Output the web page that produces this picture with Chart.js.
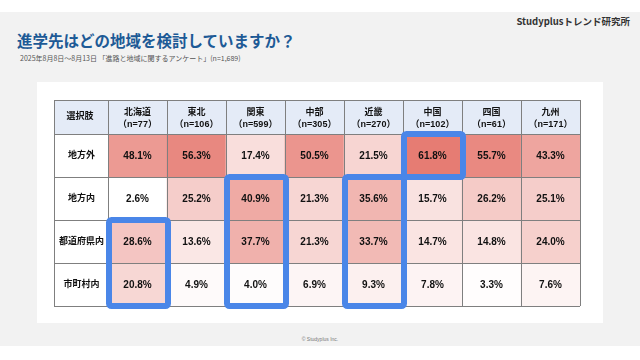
<!DOCTYPE html>
<html><head><meta charset="utf-8">
<script src="https://cdn.jsdelivr.net/npm/chart.js@4.4.1/dist/chart.umd.min.js"></script>
<style>
html,body{margin:0;padding:0;width:640px;height:360px;overflow:hidden;background:#fff;font-family:'Noto Sans CJK JP',sans-serif;}
#bg{position:absolute;left:0;top:12px;width:640px;height:334px;background:#f2f2f2;}
#panel{position:absolute;left:37px;top:82px;width:566px;height:241px;background:#fff;}
#title{position:absolute;left:17px;top:33px;font-size:15.5px;font-weight:bold;color:#1d5a96;line-height:1;white-space:nowrap;}
#sub{position:absolute;left:20px;top:55px;font-size:7px;color:#555;line-height:1;white-space:nowrap;}
#logo{position:absolute;right:10px;top:17px;font-size:9.5px;font-weight:bold;color:#333;line-height:1;white-space:nowrap;}
#foot{position:absolute;left:0;width:640px;top:337px;text-align:center;font-size:5px;color:#777;line-height:1;font-family:'Liberation Sans',sans-serif;}
canvas{position:absolute;left:0;top:0;}
</style></head>
<body>
<div id="bg"></div>
<div id="panel"></div>
<div id="title">進学先はどの地域を検討していますか？</div>
<div id="sub">2025年8月8日～8月13日 「進路と地域に関するアンケート」(n=1,689)</div>
<div id="logo">Studyplusトレンド研究所</div>
<div id="foot">© Studyplus Inc.</div>
<canvas id="c" width="640" height="360"></canvas>
<script>
// ---- data ----
const cornerLabel = '選択肢';
const regions = ['北海道','東北','関東','中部','近畿','中国','四国','九州'];
const sampleSizes = [77,106,599,305,270,102,61,171];
const rowNames = ['地方外','地方内','都道府県内','市町村内'];
const outsideRegion = [48.1,56.3,17.4,50.5,21.5,61.8,55.7,43.3];
const withinRegion = [2.6,25.2,40.9,21.3,35.6,15.7,26.2,25.1];
const withinPrefecture = [28.6,13.6,37.7,21.3,33.7,14.7,14.8,24.0];
const withinMunicipality = [20.8,4.9,4.0,6.9,9.3,7.8,3.3,7.6];
const rowValues = [outsideRegion, withinRegion, withinPrefecture, withinMunicipality];
// highlighted cells: region + rows
const highlights = [
  {region:'北海道', rows:['都道府県内','市町村内']},
  {region:'関東', rows:['地方内','都道府県内','市町村内']},
  {region:'近畿', rows:['地方内','都道府県内','市町村内']},
  {region:'中国', rows:['地方外']}
];

// ---- styles ----
const allVals = rowValues.flat();
const vMin = Math.min(...allVals), vMax = Math.max(...allVals);
const hot = [230,124,115];
function heat(v){
  const t = (v - vMin) / (vMax - vMin);
  const c = [255,255,255].map((w,i)=>Math.round(w + (hot[i]-w)*t));
  return `rgb(${c[0]},${c[1]},${c[2]})`;
}
const FONT = "'Liberation Sans','Noto Sans CJK JP',sans-serif";
const headerBg = '#e4ebf7';
const lineColor = '#7f7f7f';
const hlColor = '#4a86e8';

const tablePlugin = {
  id:'table',
  beforeDraw(chart){
    const {ctx, chartArea:a, scales:{x,y}} = chart;
    ctx.save();
    ctx.fillStyle = headerBg;
    ctx.fillRect(y.left, x.top, a.right - y.left, a.top - x.top);
    ctx.fillStyle = '#fff';
    ctx.fillRect(y.left, a.top, a.left - y.left, a.bottom - a.top);
    ctx.restore();
  },
  afterDatasetsDraw(chart){
    const {ctx, chartArea:a, scales:{x,y}} = chart;
    ctx.save();
    // grid lines
    ctx.strokeStyle = lineColor; ctx.lineWidth = 1;
    const half = (x.getPixelForValue(1) - x.getPixelForValue(0)) / 2;
    const vx = [y.left, a.left];
    regions.forEach((r,i)=>vx.push(x.getPixelForValue(i) + half));
    const hy = [x.top, a.top];
    rowNames.forEach((r,i)=>hy.push(y.getPixelForValue(i+1)));
    ctx.beginPath();
    vx.forEach(px=>{const p=Math.round(px)+0.5; ctx.moveTo(p, x.top); ctx.lineTo(p, a.bottom);});
    hy.forEach(py=>{const p=Math.round(py)+0.5; ctx.moveTo(y.left, p); ctx.lineTo(a.right, p);});
    ctx.stroke();
    // corner label
    ctx.fillStyle = '#111';
    ctx.font = `bold 9px ${FONT}`;
    ctx.textAlign = 'center'; ctx.textBaseline = 'middle';
    ctx.fillText(cornerLabel, (y.left + a.left)/2 - 1, (x.top + a.top)/2);
    // cell values
    ctx.font = `bold 10px ${FONT}`;
    chart.data.datasets.forEach((ds,di)=>{
      chart.getDatasetMeta(di).data.forEach((el,i)=>{
        const p = el.getCenterPoint();
        ctx.fillText(rowValues[di][i].toFixed(1) + '%', p.x, p.y + 0.5);
      });
    });
    // highlight boxes
    ctx.strokeStyle = hlColor; ctx.lineWidth = 6; ctx.lineJoin = 'round';
    highlights.forEach(h=>{
      const ci = regions.indexOf(h.region);
      const ris = h.rows.map(r=>rowNames.indexOf(r));
      const l = x.getPixelForValue(ci) - half, r = x.getPixelForValue(ci) + half;
      const t = y.getPixelForValue(Math.min(...ris)), b = y.getPixelForValue(Math.max(...ris)+1);
      ctx.beginPath();
      ctx.roundRect(l+1, t, r-l, b-t, 2.5);
      ctx.stroke();
    });
    ctx.restore();
  }
};

new Chart(document.getElementById('c'), {
  type:'bar',
  data:{
    labels: regions.map((r,i)=>[r, `（n=${sampleSizes[i]}）`]),
    datasets: rowNames.map((name,ri)=>({
      label:name,
      data: regions.map(()=>[ri, ri+1]),
      backgroundColor: rowValues[ri].map(heat),
      borderWidth:0, borderSkipped:false,
      barPercentage:1, categoryPercentage:1, grouped:false
    }))
  },
  options:{
    responsive:false, animation:false, devicePixelRatio:1,
    layout:{padding:{left:54, top:100, right:60, bottom:54}},
    plugins:{legend:{display:false}, tooltip:{enabled:false}},
    scales:{
      x:{type:'category', position:'top', offset:true,
        grid:{display:false, drawTicks:false}, border:{display:false},
        ticks:{font:{family:FONT, size:9, weight:'bold', lineHeight:1.35}, color:'#111', padding:3, maxRotation:0, autoSkip:false},
        afterFit(s){s.height = 34;}},
      y:{type:'linear', min:0, max:4, reverse:true,
        grid:{display:false, drawTicks:false}, border:{display:false},
        afterBuildTicks(s){s.ticks = rowNames.map((_,i)=>({value:i+0.5}));},
        ticks:{callback:(v,i)=>rowNames[i], crossAlign:'center', padding:4,
          font:{family:FONT, size:9, weight:'bold'}, color:'#111'},
        afterFit(s){s.width = 54;}}
    }
  },
  plugins:[tablePlugin]
});
</script>
</body></html>
